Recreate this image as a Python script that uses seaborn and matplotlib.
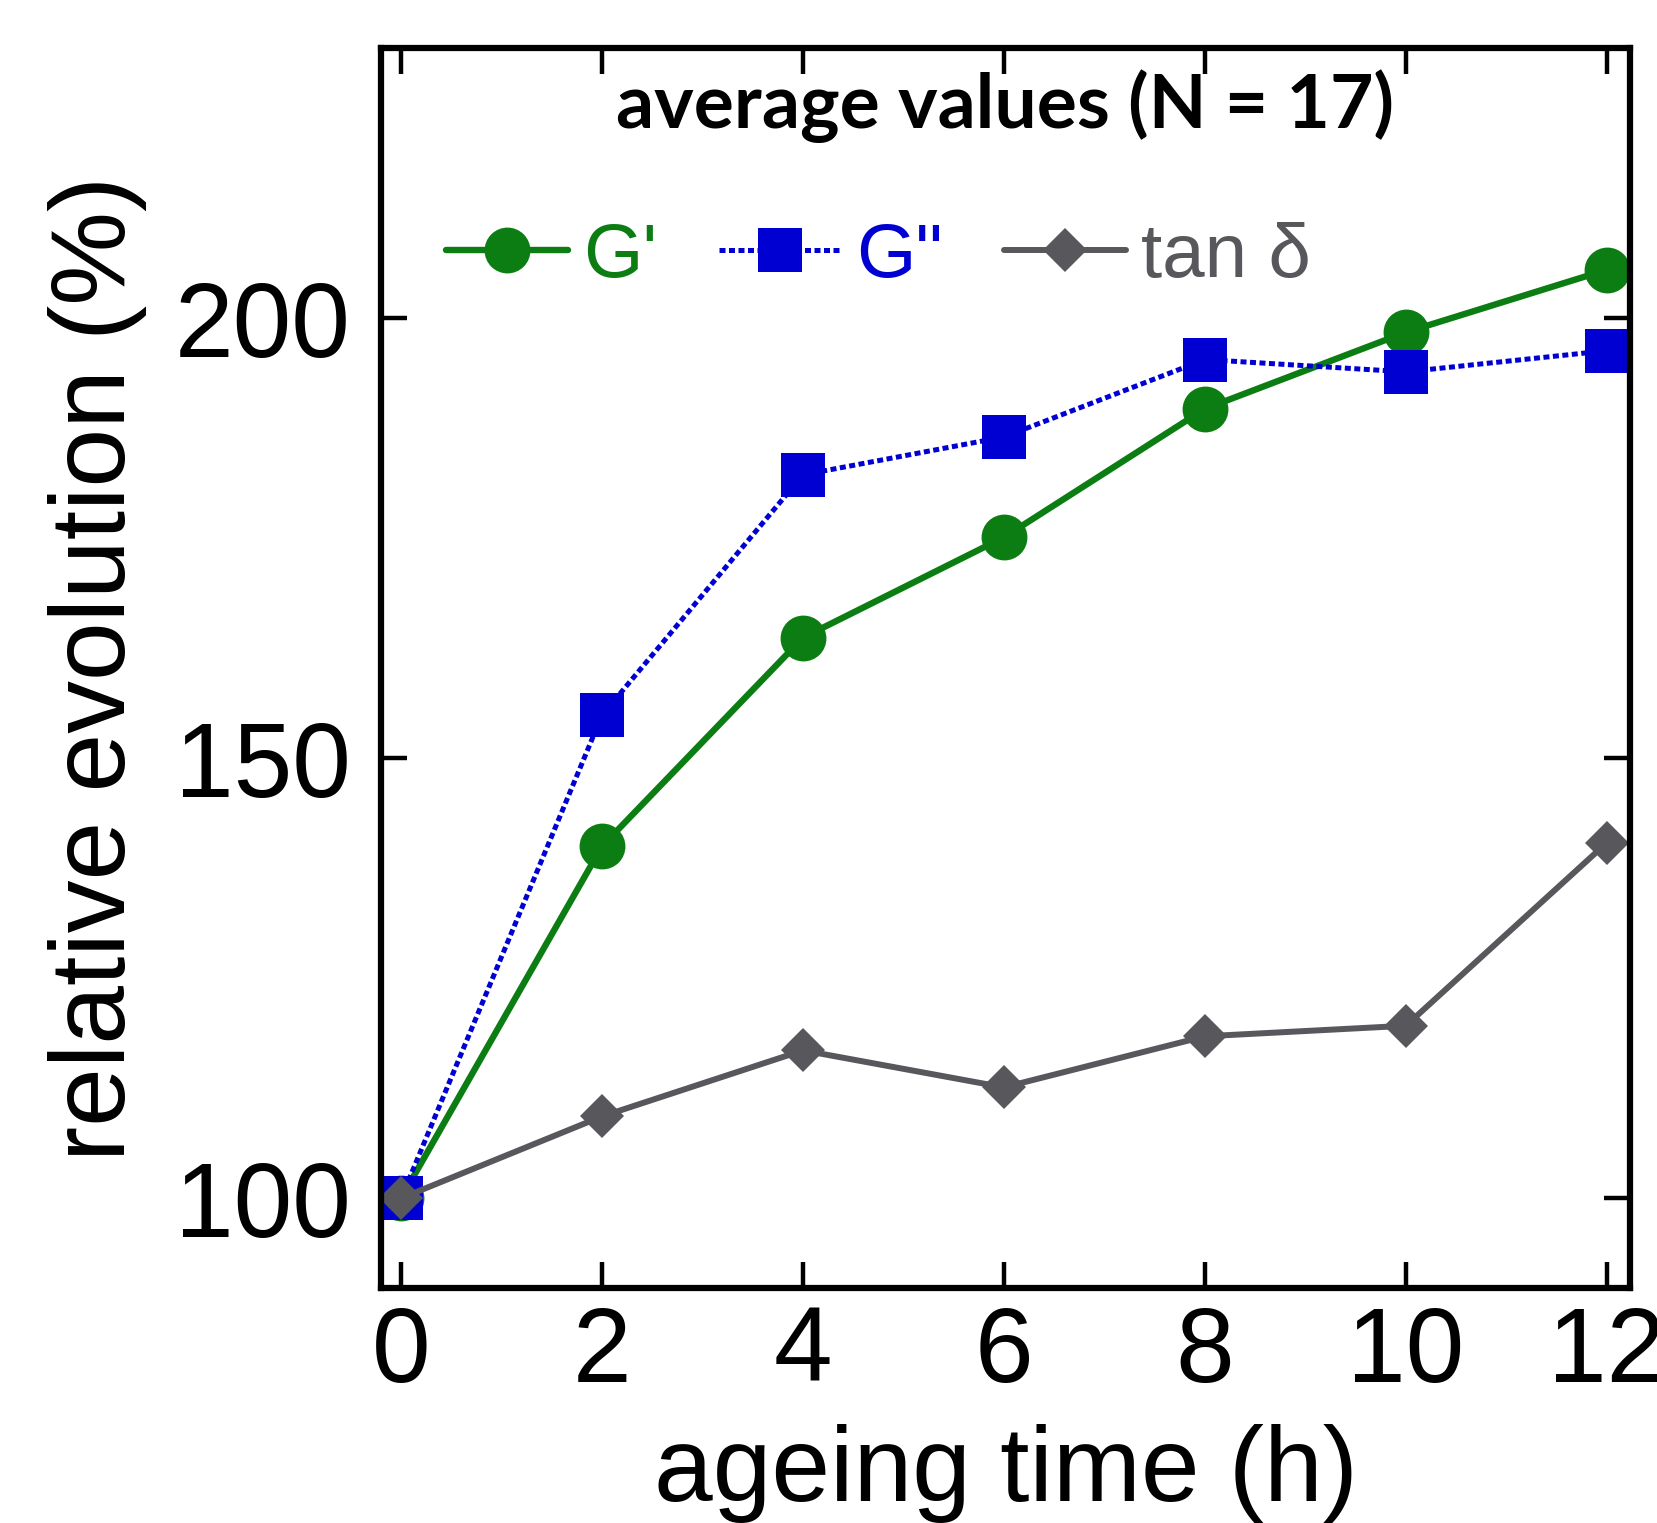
import matplotlib
matplotlib.use("Agg")
import matplotlib.pyplot as plt
import seaborn as sns
import pandas as pd

# ---- data ----
time_h = [0, 2, 4, 6, 8, 10, 12]
g_storage = [100, 140.0, 163.7, 175.1, 189.7, 198.4, 205.5]
g_loss = [100, 154.9, 182.2, 186.5, 195.3, 193.9, 196.3]
tan_delta = [100, 109.3, 116.8, 112.6, 118.4, 119.6, 140.4]
series_names = ["G'", 'G"', "tan \u03b4"]
x_ticks = [0, 2, 4, 6, 8, 10, 12]
y_ticks = [100, 150, 200]

sns.set_theme(style="ticks")
plt.rcParams["font.family"] = ["Liberation Sans", "DejaVu Sans"]

fig = plt.figure(figsize=(16.58, 15.23), dpi=100)
ax = fig.add_axes([0.2298, 0.1543, 0.7533, 0.8142])

green = "#0b7d12"
blue = "#0000d2"
grey = "#58585c"

df1 = pd.DataFrame({"t": time_h, "v": g_storage})
df2 = pd.DataFrame({"t": time_h, "v": g_loss})
df3 = pd.DataFrame({"t": time_h, "v": tan_delta})

sns.lineplot(data=df1, x="t", y="v", ax=ax, color=green, lw=4.6,
             marker="o", markersize=33, markeredgewidth=0,
             label=series_names[0], clip_on=False)
sns.lineplot(data=df2, x="t", y="v", ax=ax, color=blue, lw=3.6,
             linestyle=(0, (1.2, 0.7)), marker="s", markersize=31,
             markeredgewidth=0, label=series_names[1], clip_on=False)
sns.lineplot(data=df3, x="t", y="v", ax=ax, color=grey, lw=4.3,
             marker="D", markersize=22, markeredgewidth=0,
             label=series_names[2], clip_on=False)

ax.set_xlim(-0.2, 12.23)
ax.set_ylim(89.8, 230.7)
ax.set_xticks(x_ticks)
ax.set_yticks(y_ticks)

for s in ax.spines.values():
    s.set_linewidth(4.5)
    s.set_color("black")

ax.tick_params(axis="both", which="major", direction="in", length=19,
               width=3.2, color="black", top=True, right=True,
               labelsize=76, labelcolor="black")
ax.tick_params(axis="x", pad=12)
ax.tick_params(axis="y", pad=22)

ax.set_xlabel("ageing time (h)", fontsize=76, color="black")
ax.set_ylabel("relative evolution (%)", fontsize=76, color="black")
ax.xaxis.set_label_coords(0.5, -0.11)
ax.yaxis.set_label_coords(-0.187, 0.5)

ax.text(0.5, 0.953, "average values (N = 17)", transform=ax.transAxes,
        ha="center", va="center", fontsize=54, fontweight="bold",
        family=["Lato", "DejaVu Sans"], color="black")

leg = ax.legend(loc="center left", bbox_to_anchor=(0.052, 0.831), ncol=3,
                frameon=False, fontsize=55, handlelength=1.6,
                handletextpad=0.2, columnspacing=0.8, borderpad=0,
                borderaxespad=0, labelcolor="linecolor")

fig.savefig("out.png", dpi=100, facecolor="white")
